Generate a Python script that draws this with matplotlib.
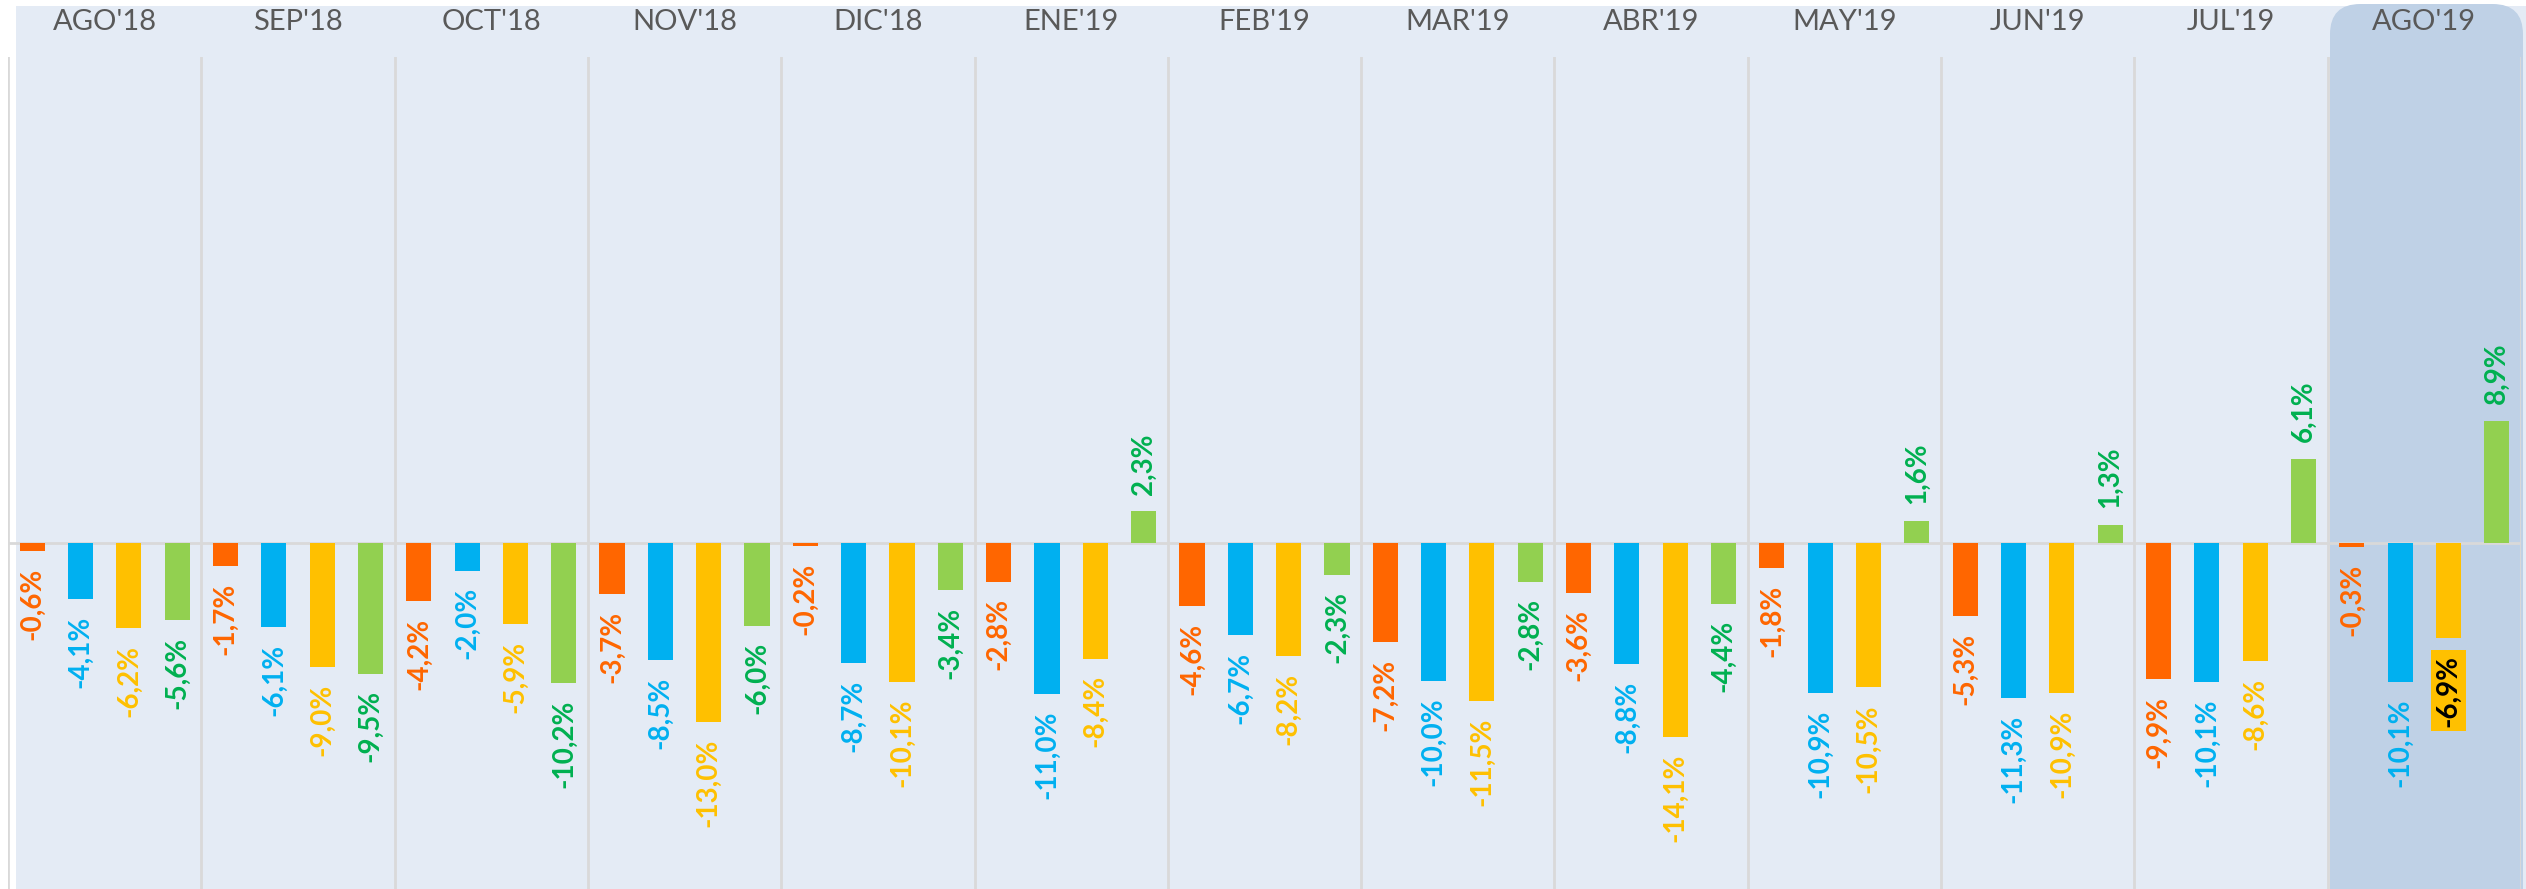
import matplotlib.pyplot as plt
from matplotlib.patches import Rectangle, FancyBboxPatch
import numpy as np

months = ["AGO'18", "SEP'18", "OCT'18", "NOV'18", "DIC'18", "ENE'19", "FEB'19",
          "MAR'19", "ABR'19", "MAY'19", "JUN'19", "JUL'19", "AGO'19"]
serie_1 = [-0.6, -1.7, -4.2, -3.7, -0.2, -2.8, -4.6, -7.2, -3.6, -1.8, -5.3, -9.9, -0.3]
serie_2 = [-4.1, -6.1, -2.0, -8.5, -8.7, -11.0, -6.7, -10.0, -8.8, -10.9, -11.3, -10.1, -10.1]
serie_3 = [-6.2, -9.0, -5.9, -13.0, -10.1, -8.4, -8.2, -11.5, -14.1, -10.5, -10.9, -8.6, -6.9]
serie_4 = [-5.6, -9.5, -10.2, -6.0, -3.4, 2.3, -2.3, -2.8, -4.4, 1.6, 1.3, 6.1, 8.9]

bar_colors = ['#FF6600', '#00B0F0', '#FFC000', '#92D050']
text_colors = ['#FF6600', '#00B0F0', '#FFC000', '#00B050']

W, H = 2526, 889
fig = plt.figure(figsize=(W / 100, H / 100), dpi=100)

# background panels (figure pixel coords)
fig.patches.append(Rectangle((16 / W, 0), (W - 16) / W, (H - 6) / H,
                             transform=fig.transFigure, facecolor='#E4EBF5',
                             edgecolor='none', zorder=-10))
fig.patches.append(FancyBboxPatch((2330 / W, -30 / H), 193 / W, (H - 4 + 30) / H,
                                  boxstyle='round,pad=0,rounding_size=0.012',
                                  mutation_aspect=W / H,
                                  transform=fig.transFigure, facecolor='#BFD1E6',
                                  edgecolor='none', zorder=-9))

ax_left = 8 / W
ax_w = (13 * 193.3) / W
ax_top = 57
ax = fig.add_axes([ax_left, 0, ax_w, (H - ax_top) / H])
ax.set_facecolor('none')
for s in ax.spines.values():
    s.set_visible(False)
ax.set_xticks([])
ax.set_yticks([])

px_per_pct = 13.75
zero_y = 543
ax.set_ylim(-(H - zero_y) / px_per_pct, (zero_y - ax_top) / px_per_pct)
ax.set_xlim(0, 13)

x = np.arange(13) + 0.5
offsets = [-0.375, -0.125, 0.125, 0.375]
series = [serie_1, serie_2, serie_3, serie_4]

for b in range(14):
    ax.axvline(b, color='#D9D9D9', lw=2, zorder=1)
ax.axhline(0, color='#D9D9D9', lw=2, zorder=1)

for k, vals in enumerate(series):
    xs = x + offsets[k]
    ax.bar(xs, vals, width=0.13, color=bar_colors[k], zorder=2)
    for xi, v in zip(xs, vals):
        lab = f'{v:.1f}%'.replace('.', ',')
        off = 12 if v > 0 else -12
        va = 'bottom' if v > 0 else 'top'
        kw = dict(color=text_colors[k])
        if k == 2 and xi > 12:
            kw = dict(color='black',
                      bbox=dict(boxstyle='square,pad=0.15', facecolor='#FFC000',
                                edgecolor='none'))
        ax.annotate(lab, (xi, v), xytext=(0, off), textcoords='offset points',
                    rotation=90, ha='center', va=va, fontsize=20,
                    fontweight='bold', family='Lato', zorder=3, **kw)

for i, m in enumerate(months):
    fig.text((8 + 193.3 * (i + 0.5)) / W, 1 - 22 / H, m, ha='center', va='center',
             fontsize=21, color='#595959', family='Lato')

fig.savefig('out.png', dpi=100)
